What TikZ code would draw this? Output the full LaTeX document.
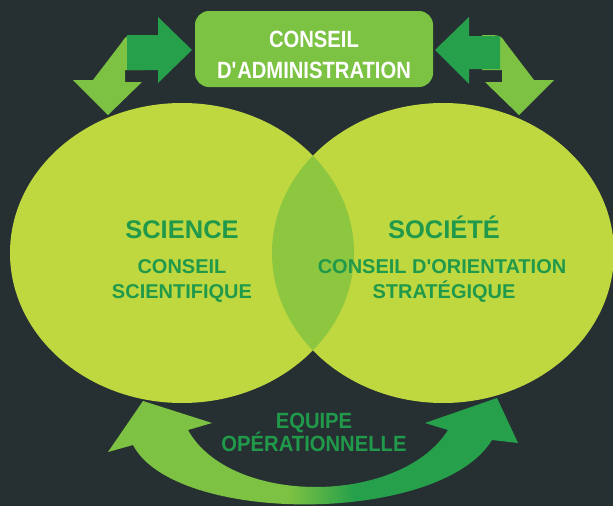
\documentclass[tikz,border=0pt]{standalone}
\usepackage{fontspec}
\setmainfont{Liberation Sans}
\newfontfamily\boxfont[FakeStretch=0.86]{Liberation Sans}
\newfontfamily\eqfont[FakeStretch=0.92]{Liberation Sans}
\definecolor{bg}{HTML}{263033}
\definecolor{ell}{HTML}{BFD840}
\definecolor{ovl}{HTML}{8DC63F}
\definecolor{txtg}{HTML}{21994A}
\definecolor{boxg}{HTML}{7CC243}
\definecolor{lg}{HTML}{7DC242}
\definecolor{dg}{HTML}{26A04A}
\pgfdeclarehorizontalshading{botshade}{100bp}{color(0bp)=(lg); color(47bp)=(lg); color(55bp)=(dg); color(100bp)=(dg)}
\begin{document}
\begin{tikzpicture}[x=1pt,y=-1pt,
  bigtitle/.style={text=txtg,font=\bfseries\fontsize{25.5}{28}\selectfont,anchor=base,inner sep=0pt},
  subtitle/.style={text=txtg,font=\bfseries\fontsize{20}{23}\selectfont,anchor=base,inner sep=0pt},
  eqtitle/.style={text=txtg,font=\eqfont\bfseries\fontsize{22}{24}\selectfont,anchor=base,inner sep=0pt},
  boxtext/.style={text=white,font=\boxfont\bfseries\fontsize{23.5}{26}\selectfont,anchor=base,inner sep=0pt},
  lightarrow/.style={fill=lg},
  darkarrow/.style={fill=dg}]
% background
\fill[bg] (0,0) rectangle (613,506);
\useasboundingbox (0,0) rectangle (613,506);

% bottom curved arrow
\shade[shading=botshade]
  (133,445) -- (108,452) -- (143,401) -- (212,423) -- (188,430)
  .. controls (230,506) and (400,506) .. (448,430)
  -- (425,423) -- (497,398) -- (518,443) -- (492,440)
  .. controls (440,525) and (175,525) .. (133,445) -- cycle;

% ellipses
\fill[ell] (182,253) ellipse [x radius=172pt, y radius=150pt];
\fill[ell] (443,253) ellipse [x radius=171pt, y radius=150pt];
\begin{scope}
  \clip (182,253) ellipse [x radius=172pt, y radius=150pt];
  \fill[ovl] (443,253) ellipse [x radius=171pt, y radius=150pt];
\end{scope}

% top-left arrows
\fill[lightarrow] (93,80) -- (122,42) .. controls (126,36) .. (134,35) -- (145,35)
  -- (145,70) -- (125,70) -- (125,82) -- (142,82) -- (108,115) -- (73,80) -- cycle;
\fill[darkarrow] (127,35) -- (158,35) -- (158,17) -- (192,50) -- (158,83) -- (158,70) -- (127,70) -- cycle;

% top-right arrows (mirror)
\begin{scope}[shift={(627,0)},xscale=-1]
\fill[lightarrow] (93,80) -- (122,42) .. controls (126,36) .. (134,35) -- (145,35)
  -- (145,70) -- (125,70) -- (125,82) -- (142,82) -- (108,115) -- (73,80) -- cycle;
\fill[darkarrow] (127,36) -- (158,36) -- (158,17) -- (192,50) -- (158,84) -- (158,69) -- (127,69) -- cycle;
\end{scope}

% top box
\node[fill=boxg,rounded corners=14pt,minimum width=238pt,minimum height=76pt,inner sep=0pt] (ca) at (314,49) {};
\node[boxtext] (ca1) at (314,47) {CONSEIL};
\node[boxtext] (ca2) at (314,78) {D\textquotesingle ADMINISTRATION};

% left texts
\node[bigtitle] (sci) at (182,238) {SCIENCE};
\node[subtitle] (sci1) at (182,273) {CONSEIL};
\node[subtitle] (sci2) at (182,298) {SCIENTIFIQUE};

% right texts
\node[bigtitle] (soc) at (444,238) {SOCIÉTÉ};
\node[subtitle] (soc1) at (442,273) {CONSEIL D\textquotesingle ORIENTATION};
\node[subtitle] (soc2) at (444,298) {STRATÉGIQUE};

% bottom texts
\node[eqtitle] (eq1) at (314,428) {EQUIPE};
\node[eqtitle] (eq2) at (314,451) {OPÉRATIONNELLE};
\end{tikzpicture}
\end{document}
